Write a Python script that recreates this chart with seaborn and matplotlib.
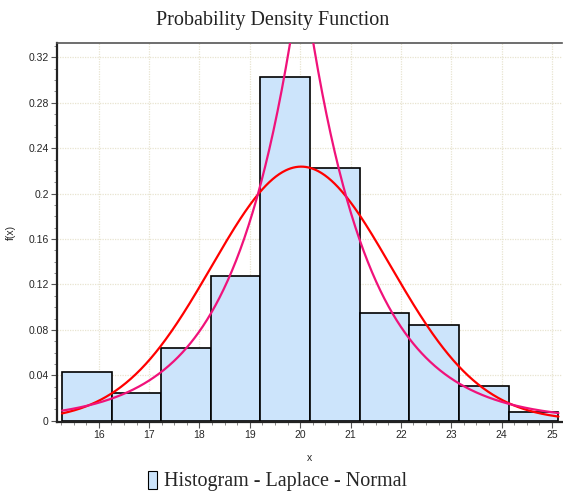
import numpy as np
import pandas as pd
import seaborn as sns
import matplotlib.pyplot as plt
from matplotlib.patches import Patch
from matplotlib.ticker import MultipleLocator

# histogram (density scale)
bin_edges = [15.27, 16.26, 17.24, 18.23, 19.21, 20.20, 21.19, 22.17, 23.16, 24.14, 25.13]
bar_heights = [0.0426, 0.0240, 0.0640, 0.1274, 0.3026, 0.2225, 0.0949, 0.0843, 0.0310, 0.0075]

# fitted distributions
normal_mu, normal_sigma = 20.02, 1.783
laplace_mu, laplace_b = 20.03, 1.25

y_ticks = [0, 0.04, 0.08, 0.12, 0.16, 0.2, 0.24, 0.28, 0.32]
y_tick_labels = ["0", "0.04", "0.08", "0.12", "0.16", "0.2", "0.24", "0.28", "0.32"]
x_ticks = [16, 17, 18, 19, 20, 21, 22, 23, 24, 25]

bin_centers = [(a + b) / 2 for a, b in zip(bin_edges[:-1], bin_edges[1:])]
hist_df = pd.DataFrame({"x": bin_centers, "w": bar_heights})

xs = np.linspace(bin_edges[0], bin_edges[-1], 600)
curves = pd.DataFrame({
    "x": np.concatenate([xs, xs]),
    "y": np.concatenate([
        np.exp(-0.5 * ((xs - normal_mu) / normal_sigma) ** 2) / (normal_sigma * np.sqrt(2 * np.pi)),
        np.exp(-np.abs(xs - laplace_mu) / laplace_b) / (2 * laplace_b),
    ]),
    "dist": ["Normal"] * len(xs) + ["Laplace"] * len(xs),
})

sns.set_style("white")
fig = plt.figure(figsize=(5.63, 4.92), dpi=100)
ax = fig.add_axes([57 / 563, 1 - 422 / 492, 505 / 563, 379 / 492])

ax.grid(True, which="major", color="#e8e4d0", linestyle=(0, (1, 1)), linewidth=0.9)
ax.set_axisbelow(True)

sns.histplot(data=hist_df, x="x", weights="w", bins=bin_edges, stat="count",
             color="#cce4fb", edgecolor="black", linewidth=1.2, alpha=1, ax=ax, zorder=2)
sns.lineplot(data=curves, x="x", y="y", hue="dist",
             palette={"Normal": "#ff0000", "Laplace": "#f0127a"},
             linewidth=1.6, legend=False, ax=ax, zorder=3)

ax.set_xlim(15.17, 25.2)
ax.set_ylim(-0.0011, 0.3326)
ax.set_xticks(x_ticks)
ax.set_xticklabels([str(t) for t in x_ticks])
ax.set_yticks(y_ticks)
ax.set_yticklabels(y_tick_labels)
ax.xaxis.set_minor_locator(MultipleLocator(0.25))
ax.yaxis.set_minor_locator(MultipleLocator(0.01))
ax.tick_params(which="major", direction="out", length=4, width=0.8, color="#555555",
               labelsize=7.5, pad=2, bottom=True, left=True)
ax.tick_params(which="minor", direction="out", length=2.5, width=0.6, color="#777777",
               bottom=True, left=True)
for lbl in ax.get_xticklabels() + ax.get_yticklabels():
    lbl.set_family("Liberation Sans")

ax.set_xlabel("x", fontsize=7.5, family="Liberation Sans", labelpad=9)
ax.set_ylabel("f(x)", fontsize=7.5, family="Liberation Sans", labelpad=9)

for side in ["left", "bottom"]:
    ax.spines[side].set_color("#222222")
    ax.spines[side].set_linewidth(1.6)
ax.spines["top"].set_color("#555555")
ax.spines["top"].set_linewidth(1.2)
ax.spines["right"].set_visible(False)

fig.text(273 / 563, 1 - 20 / 492, "Probability Density Function", ha="center", va="center",
         fontsize=14.5, family="Liberation Serif", color="#222222")

handle = Patch(facecolor="#cce4fb", edgecolor="black", linewidth=0.8)
fig.legend([handle], ["Histogram - Laplace - Normal"], loc="center", bbox_to_anchor=(278 / 563, 1 - 481 / 492),
           frameon=False, prop={"family": "Liberation Serif", "size": 14.5},
           handlelength=0.45, handleheight=1.0, handletextpad=0.35, borderpad=0)

plt.savefig("out.png", dpi=100)
plt.close()
